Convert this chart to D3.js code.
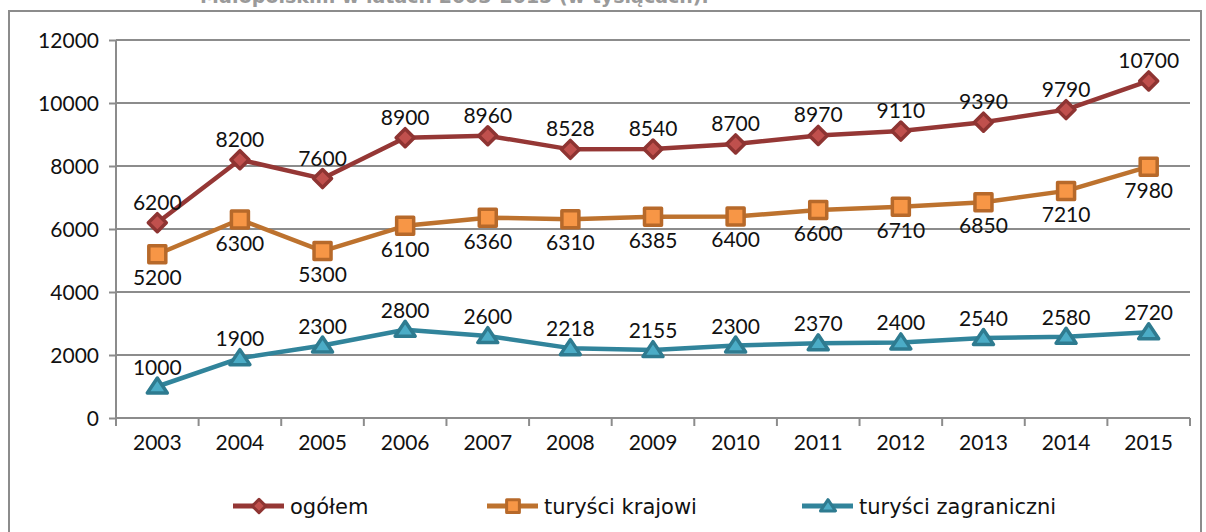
<!DOCTYPE html>
<html><head><meta charset="utf-8">
<script src="https://cdn.jsdelivr.net/npm/d3@7"></script>
<style>html,body{margin:0;padding:0;background:#fff;overflow:hidden}svg{display:block}</style>
</head><body>
<script>
const years = ["2003","2004","2005","2006","2007","2008","2009","2010","2011","2012","2013","2014","2015"];
const ogolem = [6200,8200,7600,8900,8960,8528,8540,8700,8970,9110,9390,9790,10700];
const krajowi = [5200,6300,5300,6100,6360,6310,6385,6400,6600,6710,6850,7210,7980];
const zagraniczni = [1000,1900,2300,2800,2600,2218,2155,2300,2370,2400,2540,2580,2720];
const yTicks = [0,2000,4000,6000,8000,10000,12000];
const seriesNames = ["ogółem","turyści krajowi","turyści zagraniczni"];
const titleText = "Małopolskim w latach 2003-2015 (w tysiącach).";

const W = 1206, H = 532;
const FONT = "Lato, 'Open Sans', sans-serif";
const LFONT = "'DejaVu Sans', sans-serif";
const svg = d3.select("body").append("svg").attr("width", W).attr("height", H);

// title, cut off at the top edge as in the source image
svg.append("text").attr("x", 200).attr("y", 3).attr("font-family", LFONT)
  .attr("font-weight", "bold").attr("font-size", 19).attr("fill", "#9a9a9a").text(titleText);

// frame
svg.append("rect").attr("x", 9).attr("y", 11).attr("width", 1192).attr("height", 540)
  .attr("fill", "none").attr("stroke", "#8c8c8c").attr("stroke-width", 2);

const x = d3.scaleBand().domain(years).range([116, 1190]);
const y = d3.scaleLinear().domain([0, 12000]).range([418, 40]);
const cx = d => x(d) + x.bandwidth() / 2;

// gridlines
svg.append("g").selectAll("line").data(yTicks.filter(t => t > 0)).join("line")
  .attr("x1", 116).attr("x2", 1190).attr("y1", d => y(d)).attr("y2", d => y(d))
  .attr("stroke", "#8c8c8c").attr("stroke-width", 2);

// y axis
const yAxis = svg.append("g").attr("transform", "translate(116,0)")
  .call(d3.axisLeft(y).tickValues(yTicks).tickSize(7).tickPadding(10).tickFormat(d3.format("d")));
yAxis.select(".domain").attr("stroke", "#8c8c8c").attr("stroke-width", 2).attr("d", "M0,40V425");
yAxis.selectAll(".tick line").attr("stroke", "#8c8c8c").attr("stroke-width", 2);
yAxis.selectAll("text").attr("font-family", FONT).attr("font-size", 21).attr("fill", "#111").attr("dy", "0.36em");

// x axis
const xAxis = svg.append("g").attr("transform", "translate(0,418)")
  .call(d3.axisBottom(x).tickSize(0).tickPadding(17));
xAxis.select(".domain").attr("stroke", "#8c8c8c").attr("stroke-width", 2).attr("d", "M116,0H1190");
xAxis.selectAll("text").attr("font-family", FONT).attr("font-size", 21).attr("fill", "#111");
svg.append("g").selectAll("line").data(years.concat(["end"])).join("line")
  .attr("x1", (d, i) => 116 + i * x.step()).attr("x2", (d, i) => 116 + i * x.step())
  .attr("y1", 418).attr("y2", 426).attr("stroke", "#8c8c8c").attr("stroke-width", 2);

// marker shapes (sizes given as half-width r)
const shapes = {
  diamond: r => `M0,${-r}L${r},0L0,${r}L${-r},0Z`,
  square: r => `M${-r},${-r}H${r}V${r}H${-r}Z`,
  triangle: r => `M0,${-r * 0.85}L${r},${r * 0.65}H${-r}Z`
};

const series = [
  {name: seriesNames[0], values: ogolem, line: "#953735", fill: "#C0504D", stroke: "#8E3432", shape: "diamond", r: 9, labelDy: -13},
  {name: seriesNames[1], values: krajowi, line: "#BD722E", fill: "#F79646", stroke: "#B7692A", shape: "square", r: 8.5, labelDy: 31},
  {name: seriesNames[2], values: zagraniczni, line: "#31849B", fill: "#4BACC6", stroke: "#2E7B90", shape: "triangle", r: 10, labelDy: -12}
];

const line = d3.line().x((d, i) => cx(years[i])).y(d => y(d));
series.forEach(s => {
  const g = svg.append("g");
  g.append("path").datum(s.values).attr("d", line).attr("fill", "none")
    .attr("stroke", s.line).attr("stroke-width", 4.5).attr("stroke-linejoin", "round");
  g.selectAll("path.m").data(s.values).join("path").attr("class", "m")
    .attr("transform", (d, i) => `translate(${cx(years[i])},${y(d)})`)
    .attr("d", shapes[s.shape](s.r))
    .attr("fill", s.fill).attr("stroke", s.stroke).attr("stroke-width", 3.5).attr("stroke-linejoin", "round");
  g.selectAll("text").data(s.values).join("text")
    .attr("x", (d, i) => cx(years[i])).attr("y", d => y(d) + s.labelDy)
    .attr("text-anchor", "middle").attr("font-family", FONT).attr("font-size", 21).attr("fill", "#111")
    .text(d => d);
});

// legend
const legendX = [233, 487, 802];
series.forEach((s, i) => {
  const g = svg.append("g").attr("transform", `translate(${legendX[i]},506)`);
  g.append("line").attr("x1", 0).attr("x2", 51).attr("stroke", s.line).attr("stroke-width", 5);
  g.append("path").attr("transform", "translate(26,0)").attr("d", shapes[s.shape](s.r * 0.75))
    .attr("fill", s.fill).attr("stroke", s.stroke).attr("stroke-width", 3).attr("stroke-linejoin", "round");
  g.append("text").attr("x", 57).attr("y", 8).attr("font-family", LFONT).attr("font-size", 21)
    .attr("fill", "#111").text(s.name);
});
</script>
</body></html>
